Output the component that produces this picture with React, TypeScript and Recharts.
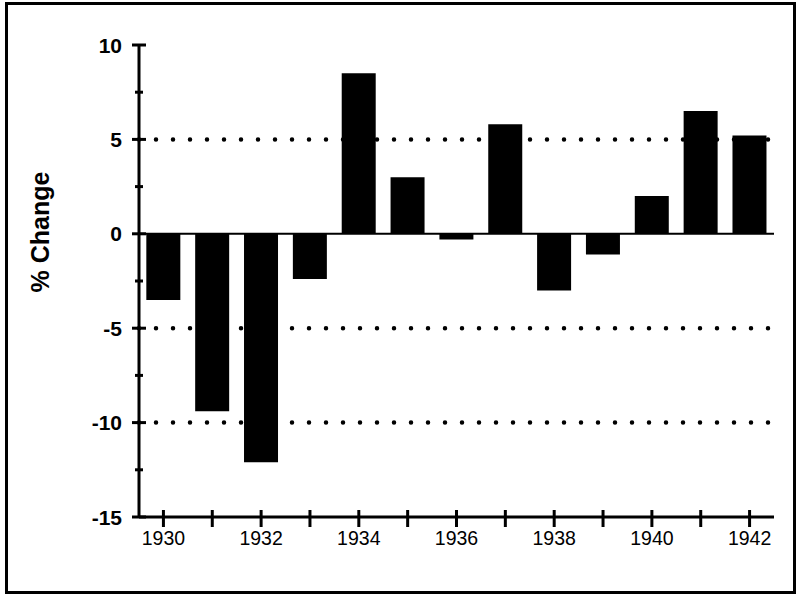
import {BarChart, Bar, XAxis, YAxis, ReferenceLine} from 'recharts';

const years = ['1930', '1931', '1932', '1933', '1934', '1935', '1936', '1937', '1938', '1939', '1940', '1941', '1942'];
const change = [-3.5, -9.4, -12.1, -2.4, 8.5, 3.0, -0.3, 5.8, -3.0, -1.1, 2.0, 6.5, 5.2];
const yTicks = [-15, -12.5, -10, -7.5, -5, -2.5, 0, 2.5, 5, 7.5, 10];
const xLabels = ['1930', '1932', '1934', '1936', '1938', '1940', '1942'];
const dottedLines = [5, -5, -10];

const font = '"Liberation Sans", Arial, Helvetica, sans-serif';

const data = years.map((y, i) => ({year: y, pct: change[i]}));

function YTick(props: any) {
    const {x, y, payload} = props;
    const major = payload.value % 5 === 0;
    const len = major ? 7 : 4;
    return (
        <g>
            <line x1={x - len} x2={x + len} y1={y} y2={y} stroke="#000" strokeWidth={3}/>
            {major && (
                <text x={x - 17} y={y} textAnchor="end" dominantBaseline="central"
                      fontFamily={font} fontSize={21} fontWeight="bold" fill="#000">
                    {payload.value}
                </text>
            )}
        </g>
    )
}

function XTick(props: any) {
    const {x, y, payload} = props;
    return (
        <g>
            <line x1={x} x2={x} y1={y - 7} y2={y + 10} stroke="#000" strokeWidth={3}/>
            {xLabels.includes(payload.value) && (
                <text x={x} y={y + 21} textAnchor="middle" dominantBaseline="central"
                      fontFamily={font} fontSize={19.5} fill="#000">
                    {payload.value}
                </text>
            )}
        </g>
    )
}

function App() {
    return (
        <div style={{position: 'absolute', left: 0, top: 0, width: 800, height: 596, background: '#fff'}}>
            <div style={{position: 'absolute', left: 5, top: 2, width: 785, height: 586, border: '3px solid #000'}}/>
            <BarChart width={800} height={596} data={data} barCategoryGap="15%"
                      margin={{top: 45, right: 26, left: 0, bottom: 0}}>
                <XAxis dataKey="year" height={79} interval={0} tickSize={0} tickMargin={0}
                       axisLine={{stroke: '#000', strokeWidth: 3}} tickLine={false} tick={<XTick/>}/>
                <XAxis xAxisId="top" orientation="top" dataKey="year" height={0} tick={false}
                       axisLine={{stroke: '#000', strokeWidth: 3}} tickLine={false}/>
                <YAxis width={139} domain={[-15, 10]} ticks={yTicks} interval={0} tickSize={0} tickMargin={0}
                       axisLine={{stroke: '#000', strokeWidth: 3}} tickLine={false} tick={<YTick/>}/>
                <YAxis yAxisId="right" orientation="right" width={0} domain={[-15, 10]} tick={false}
                       axisLine={{stroke: '#000', strokeWidth: 3}} tickLine={false}/>
                {dottedLines.map(v => (
                    <ReferenceLine key={v} y={v} stroke="#000" strokeWidth={4.5}
                                   strokeDasharray="0 17" strokeLinecap="round"/>
                ))}
                <ReferenceLine y={0} stroke="#000" strokeWidth={2}/>
                <Bar dataKey="pct" fill="#000" isAnimationActive={false}/>
                <text x={40} y={232} transform="rotate(-90 40 232)" textAnchor="middle" dominantBaseline="central"
                      fontFamily={font} fontSize={25} fontWeight="bold" fill="#000">% Change</text>
            </BarChart>
        </div>
    )
}

export default App;
